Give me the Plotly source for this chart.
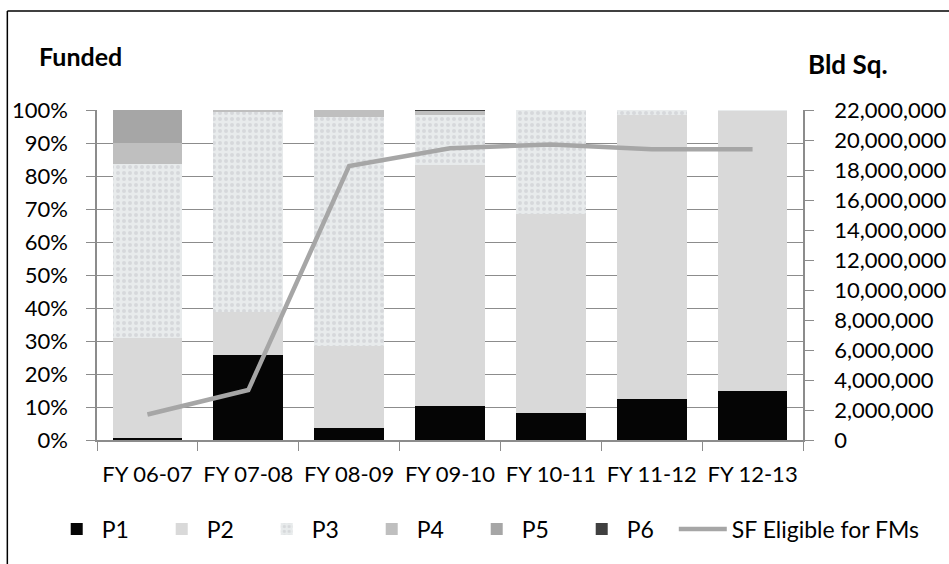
import plotly.graph_objects as go

categories = ["FY 06-07", "FY 07-08", "FY 08-09", "FY 09-10", "FY 10-11", "FY 11-12", "FY 12-13"]
p1 = [0.007, 0.258, 0.035, 0.103, 0.083, 0.124, 0.150]
p2 = [0.301, 0.131, 0.250, 0.730, 0.601, 0.861, 0.848]
p3 = [0.528, 0.606, 0.695, 0.151, 0.316, 0.015, 0.002]
p4 = [0.065, 0.005, 0.020, 0.013, 0.000, 0.000, 0.000]
p5 = [0.099, 0.000, 0.000, 0.000, 0.000, 0.000, 0.000]
p6 = [0.000, 0.000, 0.000, 0.003, 0.000, 0.000, 0.000]
sf_eligible = [1700000, 3330000, 18270000, 19450000, 19700000, 19380000, 19380000]

font_family = "Lato, 'Open Sans', sans-serif"
axis_gray = "#8c8c8c"

fig = go.Figure()

def add_bar(name, vals, color, pattern=None):
    marker = dict(color=color, line=dict(width=0))
    if pattern:
        marker["pattern"] = pattern
    fig.add_trace(go.Bar(x=categories, y=vals, name=name, marker=marker, width=0.69,
                         legend="legend"))

add_bar("P1", p1, "#050505")
add_bar("P2", p2, "#d9d9d9")
add_bar("P3", p3, "#e6e9ea",
        dict(shape=".", fgcolor="#c3c6c9", bgcolor="#e8ebec", size=6, solidity=0.35, fillmode="overlay"))
add_bar("P4", p4, "#bfbfbf")
add_bar("P5", p5, "#a6a6a6")
add_bar("P6", p6, "#404040")

fig.add_trace(go.Scatter(x=categories, y=sf_eligible, name="SF Eligible for FMs", yaxis="y2",
                         mode="lines", line=dict(color="#a6a6a6", width=4.5), legend="legend2"))

fig.update_layout(
    width=949, height=564,
    margin=dict(l=97, r=146, t=110, b=124, autoexpand=False),
    barmode="stack",
    plot_bgcolor="white", paper_bgcolor="white",
    font=dict(family=font_family, size=22, color="#000000"),
    showlegend=True,
    legend=dict(orientation="h", traceorder="normal", xref="container", yref="container",
                x=0.0545, xanchor="left", y=0.062, yanchor="middle", font=dict(size=23),
                itemwidth=40, entrywidth=50, entrywidthmode="pixels", tracegroupgap=0),
    legend2=dict(orientation="h", xref="container", yref="container",
                 x=0.710, xanchor="left", y=0.062, yanchor="middle", font=dict(size=23),
                 itemwidth=48),
    xaxis=dict(type="category", showgrid=False, ticks="outside", ticklen=9, tickcolor=axis_gray,
               tickson="boundaries", showline=True, linecolor=axis_gray, linewidth=1.5,
               ticklabelstandoff=14, tickfont=dict(size=22), automargin=False),
    yaxis=dict(range=[0, 1], dtick=0.1, tickformat=".0%", showgrid=True, gridcolor=axis_gray,
               gridwidth=1.3, zeroline=False, showline=True, linecolor=axis_gray, linewidth=1.5,
               ticks="outside", ticklen=9, tickcolor=axis_gray, ticklabelstandoff=14,
               tickfont=dict(size=22), automargin=False),
    yaxis2=dict(range=[0, 22000000], dtick=2000000, tickformat=",", overlaying="y", side="right",
                showgrid=False, zeroline=False, showline=True, linecolor=axis_gray, linewidth=1.5,
                ticks="outside", ticklen=9, tickcolor=axis_gray, ticklabelstandoff=16,
                tickfont=dict(size=22), automargin=False),
    annotations=[
        dict(text="<b>Funded</b>", xref="paper", yref="paper", x=-0.085, y=1.164,
             xanchor="left", yanchor="middle", showarrow=False, font=dict(size=25)),
        dict(text="<b>Bld Sq.</b>", xref="paper", yref="paper", x=1.004, y=1.139,
             xanchor="left", yanchor="middle", showarrow=False, font=dict(size=26)),
    ],
    shapes=[
        dict(type="line", xref="paper", yref="paper", x0=-0.127, x1=1.3, y0=1.3, y1=1.3,
             line=dict(color="#000000", width=1.5)),
        dict(type="line", xref="paper", yref="paper", x0=-0.127, x1=-0.127, y0=1.3, y1=-0.4,
             line=dict(color="#000000", width=1.5)),
    ],
)

fig.write_html("out.html")
